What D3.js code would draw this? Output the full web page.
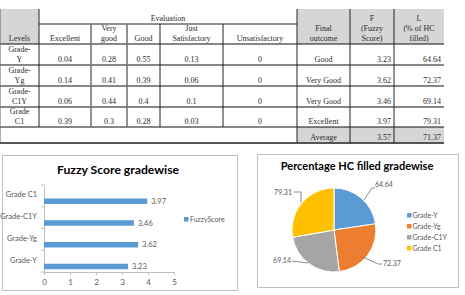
<!DOCTYPE html>
<html>
<head>
<meta charset="utf-8">
<script src="https://cdn.jsdelivr.net/npm/d3@7"></script>
<style>
  html, body { margin: 0; padding: 0; background: #fff; }
  svg { display: block; }
  .tbl text { font-family: "Liberation Serif", "DejaVu Serif", serif; font-size: 8px; fill: #2b2b2b; }
  .chart text { font-family: Lato, "Open Sans", sans-serif; fill: #595959; }
</style>
</head>
<body>
<svg id="fig" width="465" height="295"></svg>
<script>
// ---- data ----
const levels = ['Grade-\nY', 'Grade-\nYg', 'Grade-\nC1Y', 'Grade\nC1'];
const evalHeaders = ['Excellent', 'Very\ngood', 'Good', 'Just\nSatisfactory', 'Unsatisfactory'];
const evalValues = [
    ['0.04', '0.28', '0.55', '0.13', '0'],
    ['0.14', '0.41', '0.39', '0.06', '0'],
    ['0.06', '0.44', '0.4', '0.1', '0'],
    ['0.39', '0.3', '0.28', '0.03', '0']
];
const outcomes = ['Good', 'Very Good', 'Very Good', 'Excellent'];
const fuzzyScore = [3.23, 3.62, 3.46, 3.97];
const hcFilled = [64.64, 72.37, 69.14, 79.31];
const averages = ['3.57', '71.37'];
const gradeNames = ['Grade-Y', 'Grade-Yg', 'Grade-C1Y', 'Grade C1'];
const xTicks = [0, 1, 2, 3, 4, 5];
const pieColors = ['#5b9bd5', '#ed7d31', '#a5a5a5', '#ffc000'];

const svg = d3.select('#fig');

// ---------- table ----------
const tbl = svg.append('g').attr('class', 'tbl');
const colX = [0, 39, 91, 127, 160, 223, 297, 350, 394, 444];
const rowY = [9, 24, 44, 65, 86, 107, 127, 143];
const gray = '#d6d6d6';

// gray header cells and average row
tbl.append('rect').attr('x', colX[0]).attr('y', rowY[0]).attr('width', colX[1] - colX[0]).attr('height', rowY[2] - rowY[0]).attr('fill', gray);
tbl.append('rect').attr('x', colX[6]).attr('y', rowY[0]).attr('width', colX[9] - colX[6]).attr('height', rowY[2] - rowY[0]).attr('fill', gray);
tbl.append('rect').attr('x', colX[6]).attr('y', rowY[6]).attr('width', colX[9] - colX[6]).attr('height', rowY[7] - rowY[6]).attr('fill', gray);

const line = (x1, y1, x2, y2, c, w) => tbl.append('line')
    .attr('x1', x1).attr('y1', y1).attr('x2', x2).attr('y2', y2)
    .attr('stroke', c).attr('stroke-width', w);

// horizontal rules
line(colX[1], rowY[1], colX[6], rowY[1], '#222', 1);
[2, 3, 4, 5, 6].forEach(i => line(0, rowY[i], colX[9], rowY[i], '#111', 1.2));
line(0, rowY[7], colX[9], rowY[7], '#555', 2);
// vertical rules
colX.forEach((x, i) => {
    if (i === 0) { line(x, rowY[0], x, rowY[7], '#666', 1); return; }
    if (i === 9) return;
    const y0 = (i >= 2 && i <= 5) ? rowY[1] : rowY[0];
    const y1 = (i >= 6) ? rowY[7] : rowY[6];
    const c = (i === 2 || i === 3) ? '#777' : '#222';
    line(x, y0, x, y1, c, (i === 2 || i === 3) ? 1.6 : 1);
});

// multi-line text helper, bottom-aligned
function cellText(lines, x, yBottom, anchor) {
    const parts = lines.split('\n');
    parts.forEach((p, k) => {
        tbl.append('text')
            .attr('x', x).attr('y', yBottom - (parts.length - 1 - k) * 10)
            .attr('text-anchor', anchor || 'middle')
            .text(p);
    });
}
const mid = i => (colX[i] + colX[i + 1]) / 2;

cellText('Evaluation', (colX[1] + colX[6]) / 2, rowY[1] - 3);
cellText('Levels', mid(0), rowY[2] - 3);
evalHeaders.forEach((h, i) => cellText(h, mid(i + 1), rowY[2] - 3));
cellText('Final\noutcome', mid(6), rowY[2] - 3);
cellText('F\n(Fuzzy\nScore)', mid(7), rowY[2] - 3);
cellText('L\n(% of HC\nfilled)', mid(8), rowY[2] - 3);

levels.forEach((lv, r) => {
    const yb = rowY[r + 3] - 3;
    cellText(lv, mid(0), yb);
    evalValues[r].forEach((v, c) => cellText(v, mid(c + 1), yb));
    cellText(outcomes[r], mid(6), yb);
    cellText(fuzzyScore[r].toFixed(2), colX[8] - 3, yb, 'end');
    cellText(hcFilled[r].toFixed(2), colX[9] - 3, yb, 'end');
});
cellText('Average', mid(6), rowY[7] - 3);
cellText(averages[0], colX[8] - 3, rowY[7] - 3, 'end');
cellText(averages[1], colX[9] - 3, rowY[7] - 3, 'end');

// ---------- bar chart ----------
const bar = svg.append('g').attr('class', 'chart');
bar.append('rect').attr('x', 2.5).attr('y', 155.5).attr('width', 235).attr('height', 135)
    .attr('fill', '#fff').attr('stroke', '#bfbfbf');
bar.append('text').attr('x', 118).attr('y', 174).attr('text-anchor', 'middle')
    .attr('font-size', 12.2).attr('font-weight', 'bold').style('fill', '#000')
    .text('Fuzzy Score gradewise');

const x = d3.scaleLinear().domain([0, 5]).range([44, 174]);
const y = d3.scaleBand().domain(gradeNames.slice().reverse()).range([185, 272]);

const xAxis = bar.append('g').attr('transform', 'translate(0,272)')
    .call(d3.axisBottom(x).tickValues(xTicks).tickSize(3).tickFormat(d3.format('d')));
xAxis.select('.domain').attr('stroke', '#bfbfbf');
xAxis.selectAll('.tick line').attr('stroke', '#bfbfbf');
xAxis.selectAll('.tick text').attr('font-size', 8).attr('dy', '0.9em').style('fill', '#595959');

const yAxis = bar.append('g').attr('transform', 'translate(44,0)')
    .call(d3.axisLeft(y).tickSize(0).tickFormat(''));
yAxis.select('.domain').attr('stroke', '#bfbfbf');
// category separators
bar.selectAll('.ysep').data(d3.range(5)).enter().append('line')
    .attr('x1', 41).attr('x2', 44)
    .attr('y1', i => 185 + i * y.step()).attr('y2', i => 185 + i * y.step())
    .attr('stroke', '#bfbfbf');

const barData = gradeNames.map((g, i) => ({ g, v: fuzzyScore[i] }));
bar.selectAll('.bar').data(barData).enter().append('rect')
    .attr('x', x(0)).attr('y', d => y(d.g) + y.bandwidth() * 0.62)
    .attr('width', d => x(d.v) - x(0)).attr('height', 5.5)
    .attr('fill', '#5b9bd5');
bar.selectAll('.val').data(barData).enter().append('text')
    .attr('x', d => x(d.v) + 4).attr('y', d => y(d.g) + y.bandwidth() * 0.62 + 5.5)
    .attr('font-size', 7.5).text(d => d.v.toFixed(2));
bar.selectAll('.cat').data(barData).enter().append('text')
    .attr('x', 37).attr('y', d => y(d.g) + y.bandwidth() * 0.62 - 1)
    .attr('text-anchor', 'end').attr('font-size', 7.5).text(d => d.g);

bar.append('rect').attr('x', 184).attr('y', 217).attr('width', 4.5).attr('height', 4.5).attr('fill', '#5b9bd5');
bar.append('text').attr('x', 190).attr('y', 222).attr('font-size', 7).text('FuzzyScore');

// ---------- pie chart ----------
const pieG = svg.append('g').attr('class', 'chart');
pieG.append('rect').attr('x', 257.5).attr('y', 154.5).attr('width', 201).attr('height', 133)
    .attr('fill', '#fff').attr('stroke', '#bfbfbf');
pieG.append('text').attr('x', 357).attr('y', 170).attr('text-anchor', 'middle')
    .attr('font-size', 11).attr('font-weight', 'bold').style('fill', '#000')
    .text('Percentage HC filled gradewise');

const cx = 334, cy = 230, r = 42;
const pie = d3.pie().sort(null).value(d => d.v);
const arc = d3.arc().innerRadius(0).outerRadius(r);
const pieData = pie(gradeNames.map((g, i) => ({ g, v: hcFilled[i] })));
const pg = pieG.append('g').attr('transform', `translate(${cx},${cy})`);
pg.selectAll('path').data(pieData).enter().append('path')
    .attr('d', arc).attr('fill', (d, i) => pieColors[i])
    .attr('stroke', '#fff').attr('stroke-width', 1);

// data labels with leader lines (label offsets from slice edge)
const labelPos = [
    { lx: 41, ly: -43, anchor: 'start', path: [[30, -30], [38, -42], [41, -42]] },
    { lx: 49, ly: 36, anchor: 'start', path: [[29, 27], [44, 34], [48, 34]] },
    { lx: -43, ly: 33, anchor: 'end', path: [[-26, 33], [-42, 31]] },
    { lx: -42, ly: -35, anchor: 'end', path: [[-33, -27], [-33, -38], [-40, -38]] }
];
pieData.forEach((d, i) => {
    const L = labelPos[i];
    pg.append('path').attr('d', d3.line()(L.path))
        .attr('fill', 'none').attr('stroke', '#595959').attr('stroke-width', 0.7);
    pg.append('text').attr('x', L.lx).attr('y', L.ly)
        .attr('text-anchor', L.anchor).attr('font-size', 7).text(d.data.v.toFixed(2));
});

const leg = pieG.selectAll('.leg').data(gradeNames).enter().append('g')
    .attr('transform', (d, i) => `translate(407,${213 + i * 11})`);
leg.append('rect').attr('width', 4.5).attr('height', 4.5).attr('fill', (d, i) => pieColors[i]);
leg.append('text').attr('x', 5.5).attr('y', 5).attr('font-size', 7).text(d => d);
</script>
</body>
</html>
